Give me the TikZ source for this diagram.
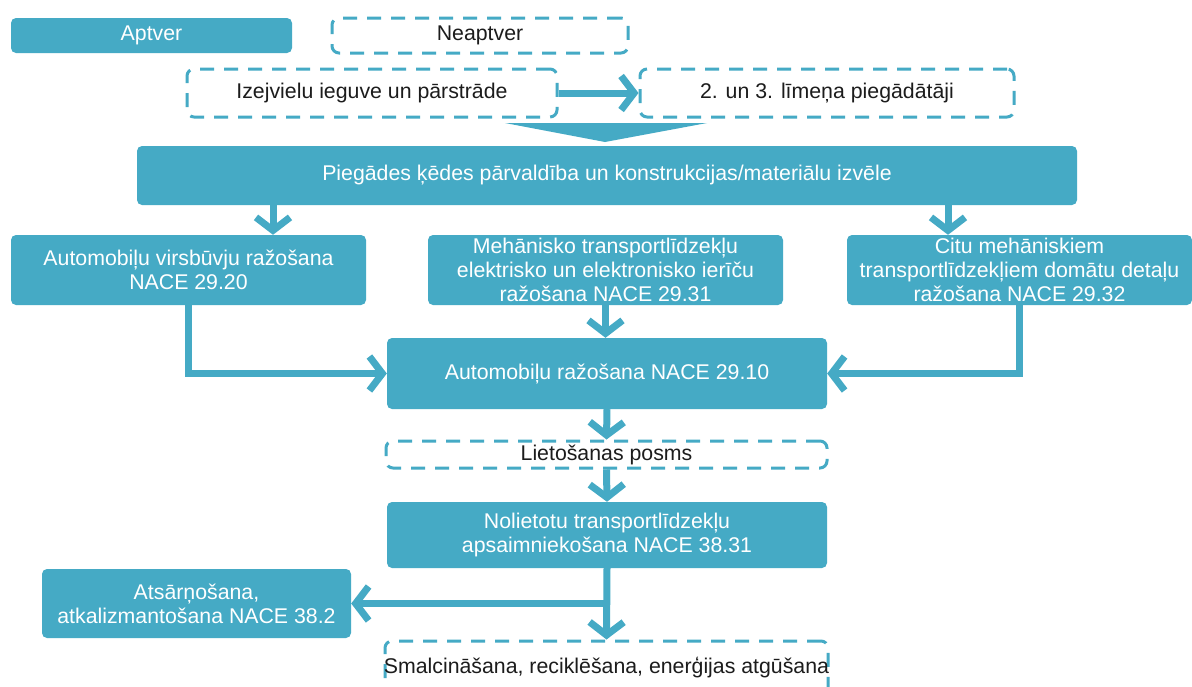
\documentclass[tikz,border=0pt]{standalone}
\usepackage{fontspec}
\setmainfont{Liberation Sans}
\usetikzlibrary{arrows.meta,calc}
\definecolor{tq}{RGB}{69,170,197}
\definecolor{ink}{RGB}{28,28,28}
\begin{document}
\begin{tikzpicture}[x=1pt,y=-1pt,
  fs/.style={font=\fontsize{21.3}{24}\selectfont},
  fillbox/.style={fs,fill=tq,rounded corners=5pt,text=white,align=center,inner sep=0pt},
  dbox/.style={fs,draw=tq,line width=3pt,dash pattern=on 14pt off 10pt,rounded corners=7pt,text=ink,align=center,inner sep=0pt},
  arr/.style={draw=tq,line width=7pt,-{Straight Barb[length=13pt,width=34pt]}},
  conn/.style={draw=tq,line width=7pt}]
\clip (0,0) rectangle (1192,686);
\fill[white] (0,0) rectangle (1192,686);
\node[fillbox,minimum width=281pt,minimum height=35pt] (apt) at (151.5,35.5) {Aptver};
\node[dbox,minimum width=296pt,minimum height=35pt] (nea) at (480,35.5) {Neaptver};
\node[dbox,minimum width=370pt,minimum height=48pt] (izej) at (372,93) {Izejvielu ieguve un pārstrāde};
\node[dbox,minimum width=374pt,minimum height=48pt] (lim) at (827,93) {2. un 3. līmeņa piegādātāji};
\node[fillbox,minimum width=940pt,minimum height=59pt] (big) at (607,175.5) {Piegādes ķēdes pārvaldība un konstrukcijas/materiālu izvēle};
\node[fillbox,minimum width=355pt,minimum height=70pt] (virs) at (188.5,270) {Automobiļu virsbūvju ražošana\\NACE 29.20};
\node[fillbox,minimum width=355pt,minimum height=70pt] (meh) at (605.5,270) {Mehānisko transportlīdzekļu\\elektrisko un elektronisko ierīču\\ražošana NACE 29.31};
\node[fillbox,minimum width=345pt,minimum height=70pt] (citu) at (1019.5,270) {Citu mehāniskiem\\transportlīdzekļiem domātu detaļu\\ražošana NACE 29.32};
\node[fillbox,minimum width=440pt,minimum height=71pt] (auto) at (607,373.5) {Automobiļu ražošana NACE 29.10};
\node[dbox,minimum width=441pt,minimum height=27pt] (liet) at (606.5,454.5) {Lietošanas posms};
\node[fillbox,minimum width=440pt,minimum height=66pt] (nol) at (607,535) {Nolietotu transportlīdzekļu\\apsaimniekošana NACE 38.31};
\node[fillbox,minimum width=309pt,minimum height=69pt] (ats) at (196.5,603.5) {Atsārņošana,\\atkalizmantošana NACE 38.2};
\node[dbox,minimum width=443pt,minimum height=58pt] (sm) at (606.5,670) {};
\node[fs,text=ink] (smt) at (606.5,668) {Smalcināšana, reciklēšana, enerģijas atgūšana};
% triangle
\fill[tq] (505,123) -- (707,123) -- (605,142) -- cycle;
% connectors
\coordinate (a1) at (273,0);
\coordinate (a2) at (948,0);
\draw[arr] (izej.east) -- (lim.west);
\draw[arr] (big.south -| a1) -- (virs.north -| a1);
\draw[arr] (big.south -| a2) -- (citu.north -| a2);
\draw[arr] (meh.south) -- (meh.south |- auto.north);
\draw[arr] (virs.south) |- (auto.west);
\draw[arr] (citu.south) |- (auto.east);
\draw[arr] (auto.south) -- (liet.north);
\draw[arr] (liet.south) -- (nol.north);
\draw[arr] (nol.south) -- (sm.north);
\draw[arr] (nol.south |- ats.east) -- (ats.east);
\end{tikzpicture}
\end{document}
